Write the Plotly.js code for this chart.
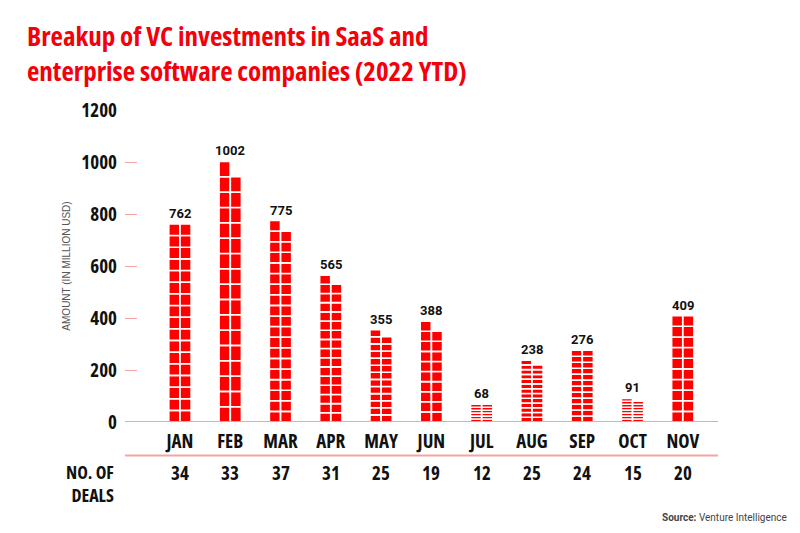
<!DOCTYPE html>
<html>
<head>
<meta charset="utf-8">
<script src="https://cdn.plot.ly/plotly-3.0.1.min.js"></script>
<style>
html,body{margin:0;padding:0;background:#fff;}
#chart{width:800px;height:533px;}
/* condensed face for the headline-style texts (Open Sans has a width axis) */
text[style*="Open Sans"]{font-stretch:75%;}
</style>
</head>
<body>
<div id="chart"></div>
<script>
// ---- data ----
const months = ["JAN","FEB","MAR","APR","MAY","JUN","JUL","AUG","SEP","OCT","NOV"];
const amounts = [762,1002,775,565,355,388,68,238,276,91,409];   // million USD
const deals = [34,33,37,31,25,19,12,25,24,15,20];                 // number of deals
const yTicks = [0,200,400,600,800,1000,1200];

// ---- style ----
const RED = "#ff0000";
const PINK = "#f6a3a3";
const COND = "Open Sans";
const COL_OFF = 0.112, COL_W = 0.22;

// Build blocks: each deal is one block; left column holds ceil(n/2), right floor(n/2).
const bx = [], bbase = [], bh = [];
months.forEach((m, i) => {
  const nL = Math.ceil(deals[i] / 2), nR = Math.floor(deals[i] / 2);
  const h = amounts[i] / nL;
  for (let k = 0; k < nL; k++) { bx.push(i - COL_OFF); bbase.push(k * h); bh.push(h); }
  for (let k = 0; k < nR; k++) { bx.push(i + COL_OFF); bbase.push(k * h); bh.push(h); }
});

const trace = {
  type: "bar", x: bx, y: bh, base: bbase, width: COL_W,
  marker: { color: RED, line: { color: "#ffffff", width: 1.6 } },
  hoverinfo: "skip", showlegend: false
};

const condFont = { family: COND, size: 19, color: "#111", weight: 700 };
const annotations = [];
months.forEach((m, i) => {
  annotations.push({ x: i, y: amounts[i], xref: "x", yref: "y", text: String(amounts[i]),
    showarrow: false, yanchor: "bottom", yshift: 1,
    font: { family: "Roboto, sans-serif", size: 13, color: "#111", weight: 700 } });
  annotations.push({ x: i, y: -0.162, xref: "x", yref: "paper", text: String(deals[i]),
    showarrow: false, yanchor: "middle", font: condFont });
});
annotations.push({ x: -0.015, xref: "paper", y: -0.115, yref: "paper", xanchor: "right", yanchor: "top",
  align: "right", showarrow: false, text: "NO. OF<br>DEALS",
  font: { family: COND, size: 18, color: "#111", weight: 700 } });
annotations.push({ x: 1.12, xref: "paper", y: -0.306, yref: "paper", xanchor: "right", yanchor: "middle",
  showarrow: false, text: "<b>Source:</b> Venture Intelligence",
  font: { family: "Roboto, sans-serif", size: 10, color: "#444" } });

const layout = {
  width: 800, height: 533,
  margin: { l: 125, r: 82, t: 110, b: 111 },
  paper_bgcolor: "#fff", plot_bgcolor: "#fff",
  font: { family: "Roboto, sans-serif" },
  barmode: "overlay",
  title: { text: "Breakup of VC investments in SaaS and<br>enterprise software companies (2022 YTD)",
    x: 27 / 800, xref: "container", xanchor: "left",
    y: 1 - 46 / 533, yref: "container", yanchor: "top",
    font: { family: COND, size: 27, color: "#f4000a", weight: 700 } },
  xaxis: { range: [-1.093, 10.70], tickvals: months.map((m, i) => i), ticktext: months,
    showgrid: false, zeroline: false, showline: false, ticks: "", ticklabelstandoff: 6,
    tickfont: condFont, fixedrange: true },
  yaxis: { range: [0, 1200], tickvals: yTicks, ticktext: yTicks.map(String),
    showgrid: false, zeroline: false, showline: false,
    ticks: "inside", ticklen: 12, tickcolor: PINK, tickwidth: 1, ticklabelstandoff: 7,
    tickfont: condFont,
    title: { text: "AMOUNT (IN MILLION USD)", standoff: 8,
      font: { family: "Liberation Sans, Arial, sans-serif", size: 10, color: "#555" } },
    fixedrange: true },
  shapes: [
    { type: "line", xref: "paper", yref: "y", x0: 0, x1: 1, y0: 0, y1: 0, line: { color: PINK, width: 2 }, layer: "above" },
    { type: "line", xref: "paper", yref: "paper", x0: 0, x1: 1, y0: -0.107, y1: -0.107, line: { color: PINK, width: 2 } }
  ],
  annotations: annotations
};

Plotly.newPlot("chart", [trace], layout, { displayModeBar: false, staticPlot: true });
</script>
</body>
</html>
